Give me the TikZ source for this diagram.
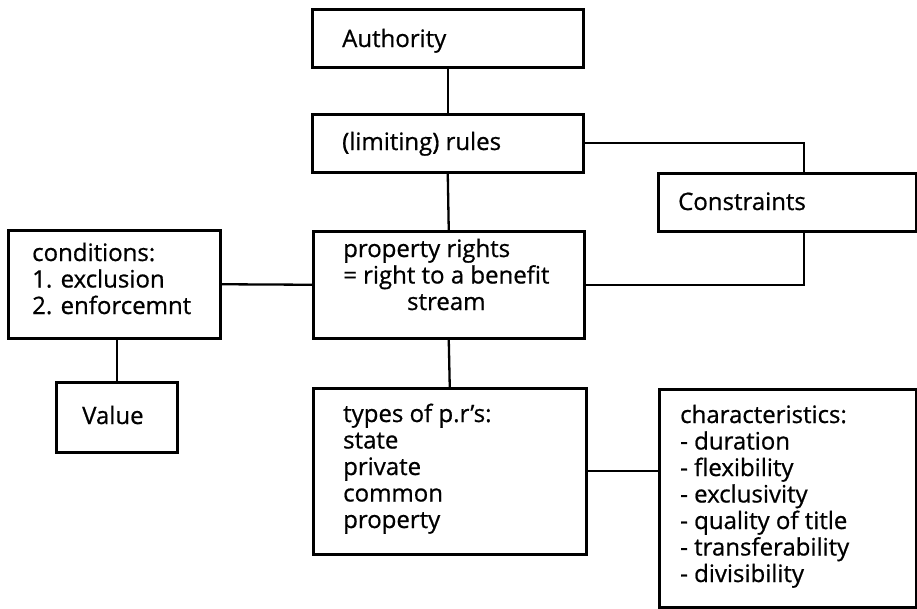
\documentclass[tikz,border=0pt]{standalone}
\usepackage{fontspec}
\setmainfont{Open Sans}[FakeBold=0.7]
\begin{document}
\begin{tikzpicture}[x=1pt,y=-1pt,
  box/.style={draw, line width=2.5pt, rectangle, inner sep=0pt, anchor=north west},
  lbl/.style={anchor=base west, inner sep=0pt, font=\fontsize{24}{26.5}\selectfont},
  link/.style={line width=2.3pt}]
\useasboundingbox (0,0) rectangle (917,608);
\fill[white] (0,0) rectangle (917,608);
% boxes
\node[box, minimum width=271pt, minimum height=58pt] (auth) at (311,8) {};
\node[box, minimum width=271pt, minimum height=58pt] (rules) at (311,113) {};
\node[box, minimum width=258pt, minimum height=58pt] (cons) at (657,172) {};
\node[box, minimum width=271pt, minimum height=107pt] (prop) at (312,230) {};
\node[box, minimum width=212pt, minimum height=108pt] (cond) at (7,229) {};
\node[box, minimum width=121pt, minimum height=70pt] (value) at (55,381) {};
\node[box, minimum width=273pt, minimum height=166pt] (types) at (312,387) {};
\node[box, minimum width=257pt, minimum height=218pt] (chars) at (658,388) {};
% texts
\node[lbl] (authT) at (342,47) {Authority};
\node[lbl] (rulesT) at (342,150) {(limiting) rules};
\node[lbl] (consT) at (678,210) {Constraints};
\node[lbl] (propT) at (343,257) {\begin{tabular}[t]{@{}l@{}}property rights\\= right to a benefit\\\multicolumn{1}{@{}c@{}}{stream}\end{tabular}};
\node[lbl] (condT) at (32,261) {\begin{tabular}[t]{@{}l@{}}conditions:\\1. exclusion\\2. enforcemnt\end{tabular}};
\node[lbl] (valueT) at (82,424) {Value};
\node[lbl] (typesT) at (343,422) {\begin{tabular}[t]{@{}l@{}}types of p.r's:\\state\\private\\common\\property\end{tabular}};
\node[lbl] (charsT) at (680,423) {\begin{tabular}[t]{@{}l@{}}characteristics:\\- duration\\- flexibility\\- exclusivity\\- quality of title\\- transferability\\- divisibility\end{tabular}};
% connectors
\coordinate (cx) at (804,0);
\draw[link] (auth.south) -- (rules.north);
\draw[link] (rules.south) -- (prop.north);
\draw[link] (prop.south) -- (types.north);
\draw[link] (rules.east) -| (cons.north -| cx);
\draw[link] (cons.south -| cx) |- (prop.east);
\draw[link] (cond.east) -- (prop.west);
\draw[link] (value.north |- cond.south) -- (value.north);
\draw[link] (types.east) -- (types.east -| chars.west);
\end{tikzpicture}
\end{document}
